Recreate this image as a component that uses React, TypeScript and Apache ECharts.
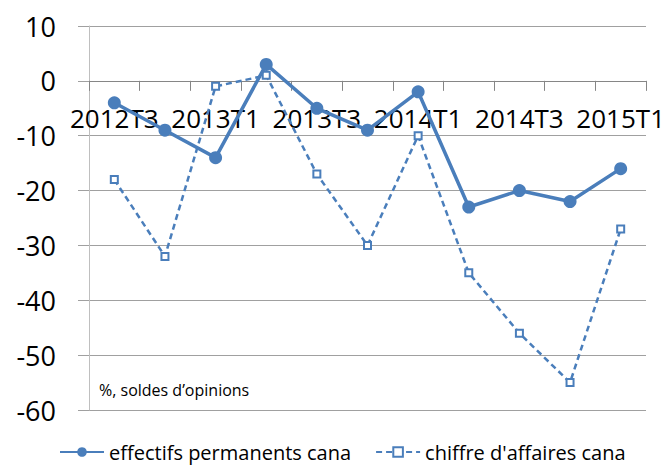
import React, { useEffect, useRef } from "react";
import * as echarts from "echarts";

const categories = [
  "2012T3", "2012T4", "2013T1", "2013T2", "2013T3", "2013T4",
  "2014T1", "2014T2", "2014T3", "2014T4", "2015T1",
];
const effectifs = [-4, -9, -14, 3, -5, -9, -2, -23, -20, -22, -16];
const chiffreAffaires = [-18, -32, -1, 1, -17, -30, -10, -35, -46, -55, -27];
const seriesNames = ["effectifs permanents cana", "chiffre d'affaires cana"];
const note = "%, soldes d\u2019opinions";
const yMin = -60;
const yMax = 10;

const BLUE = "#4a7ebb";
const FONT = "Open Sans";
const GRID_TOP = 26;
const GRID_BOTTOM = 57;
const H = 467;

export default function App() {
  const ref = useRef<HTMLDivElement>(null);
  useEffect(() => {
    if (!ref.current) return;
    const chart = echarts.init(ref.current, null, { renderer: "svg" });
    const plotH = H - GRID_TOP - GRID_BOTTOM;
    const zeroFromBottom = ((0 - yMin) / (yMax - yMin)) * plotH;
    chart.setOption({
      animation: false,
      textStyle: { fontFamily: FONT },
      grid: { left: 89, right: 23, top: GRID_TOP, bottom: GRID_BOTTOM, containLabel: false },
      xAxis: {
        type: "category",
        data: categories,
        boundaryGap: true,
        position: "bottom",
        offset: -zeroFromBottom,
        axisLine: { onZero: false, lineStyle: { color: "#868686", width: 1 } },
        axisTick: { show: true, interval: 0, length: 10, lineStyle: { color: "#868686" } },
        axisLabel: {
          interval: 1,
          margin: 24,
          fontSize: 26,
          color: "#000",
          fontFamily: FONT,
        },
        splitLine: { show: false },
      },
      yAxis: {
        type: "value",
        min: yMin,
        max: yMax,
        interval: 10,
        axisLine: { show: true, lineStyle: { color: "#bfbfbf", width: 1 } },
        axisTick: { show: true, length: 11, lineStyle: { color: "#a0a0a0" } },
        axisLabel: { fontSize: 27, color: "#000", margin: 33, fontFamily: FONT },
        splitLine: { show: true, lineStyle: { color: "#a0a0a0", width: 1 } },
      },
      legend: {
        bottom: 0,
        left: 54,
        itemWidth: 44,
        itemHeight: 12,
        itemGap: 24,
        textStyle: { fontSize: 20, color: "#000", fontFamily: FONT },
        data: seriesNames,
      },
      series: [
        {
          name: seriesNames[0],
          type: "line",
          data: effectifs,
          symbol: "circle",
          symbolSize: 13,
          lineStyle: { color: BLUE, width: 3.5 },
          itemStyle: { color: BLUE },
          z: 3,
        },
        {
          name: seriesNames[1],
          type: "line",
          data: chiffreAffaires,
          symbol: "rect",
          symbolSize: 7,
          lineStyle: { color: BLUE, width: 2.5, type: [6, 4] },
          itemStyle: { color: "#fff", borderColor: BLUE, borderWidth: 2 },
          z: 2,
        },
      ],
      graphic: [
        {
          type: "text",
          left: 99,
          top: 382,
          style: { text: note, fontSize: 16, fill: "#000", fontFamily: FONT },
        },
      ],
    });
    return () => chart.dispose();
  }, []);
  return <div ref={ref} style={{ width: 669, height: 467, position: "absolute", left: 0, top: 0 }} />;
}
